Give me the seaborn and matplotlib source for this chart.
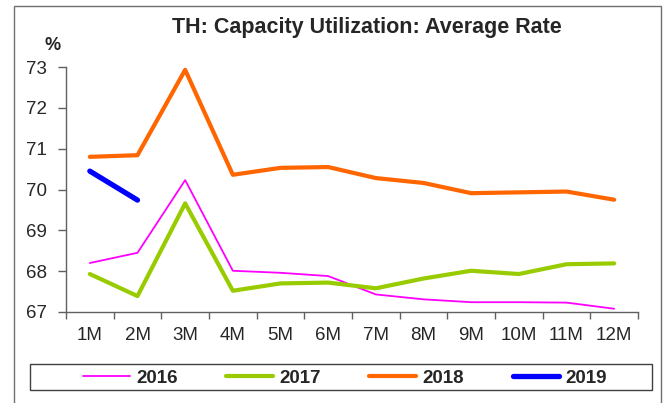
import numpy as np
import pandas as pd
import seaborn as sns
from matplotlib import pyplot as plt
from matplotlib.lines import Line2D
from matplotlib.patches import Rectangle

# data
months = ['1M', '2M', '3M', '4M', '5M', '6M', '7M', '8M', '9M', '10M', '11M', '12M']
rate_2016 = [68.20, 68.45, 70.23, 68.01, 67.96, 67.88, 67.43, 67.31, 67.24, 67.24, 67.23, 67.08]
rate_2017 = [67.93, 67.39, 69.66, 67.52, 67.70, 67.72, 67.58, 67.82, 68.01, 67.93, 68.17, 68.19]
rate_2018 = [70.80, 70.84, 72.93, 70.36, 70.53, 70.55, 70.28, 70.16, 69.91, 69.93, 69.95, 69.75]
rate_2019 = [70.45, 69.74]

years = ['2016', '2017', '2018', '2019']
colors = {'2016': '#FF00FF', '2017': '#99CC00', '2018': '#FF6600', '2019': '#0000FF'}
widths = {'2016': 1.3, '2017': 3.0, '2018': 3.0, '2019': 3.8}

series = {'2016': rate_2016, '2017': rate_2017, '2018': rate_2018, '2019': rate_2019}
rows = []
for y in years:
    for m, v in zip(months, series[y]):
        rows.append({'month': m, 'value': v, 'year': y})
df = pd.DataFrame(rows)

sns.set_style('white')
plt.rcParams['font.family'] = ['Liberation Sans', 'DejaVu Sans']

fig = plt.figure(figsize=(6.64, 4.03), dpi=100)
ax = fig.add_axes([66 / 664, 1 - 312 / 403, (638 - 66) / 664, (312 - 67) / 403])

# outer frame of the chart area
fig.patches.append(Rectangle((14 / 664, -0.05), (661 - 14) / 664, 1.05 - 6 / 403,
                             transform=fig.transFigure, fill=False,
                             edgecolor='#707070', linewidth=1.0))
# legend box
fig.patches.append(Rectangle((30 / 664, 1 - 390 / 403), 622 / 664, 26 / 403,
                             transform=fig.transFigure, fill=False,
                             edgecolor='#404040', linewidth=1.0))

sns.lineplot(data=df, x='month', y='value', hue='year', size='year',
             palette=colors, sizes=widths, sort=False, legend=False, ax=ax)
for ln in ax.lines:
    ln.set_solid_capstyle('round')

ax.set_xlim(-0.5, 11.5)
ax.set_ylim(67, 73)
ax.set_yticks(range(67, 74))
ax.set_xticks(range(12))
ax.set_xticklabels(months)
ax.set_xticks(np.arange(-0.5, 12, 1), minor=True)
ax.tick_params(axis='x', which='major', length=0, pad=11, labelsize=13.5)
ax.tick_params(axis='x', which='minor', length=5, width=1, color='#606060',
               direction='out', bottom=True)
ax.tick_params(axis='y', length=6, width=1, color='#606060', direction='out',
               left=True, labelsize=13.5, pad=8)
ax.set_xlabel('')
ax.set_ylabel('')
for side in ['top', 'right']:
    ax.spines[side].set_visible(False)
for side in ['left', 'bottom']:
    ax.spines[side].set_color('#606060')
    ax.spines[side].set_linewidth(1.0)

fig.text(367 / 664, 1 - 28 / 403, 'TH: Capacity Utilization: Average Rate',
         ha='center', va='center', fontsize=15.5, fontweight='bold')
fig.text(53 / 664, 1 - 45 / 403, '%', ha='center', va='center',
         fontsize=13, fontweight='bold')

handles = [Line2D([], [], color=colors[y], linewidth=widths[y],
                  solid_capstyle='round') for y in years]
leg = fig.legend(handles, years, loc='center', ncol=4,
                 bbox_to_anchor=(345 / 664, 1 - 378 / 403),
                 prop={'weight': 'bold', 'size': 13.5}, handlelength=2.5,
                 handletextpad=0.32, columnspacing=2.6, borderaxespad=0,
                 frameon=False, borderpad=0)

fig.savefig('out.png', dpi=100)
